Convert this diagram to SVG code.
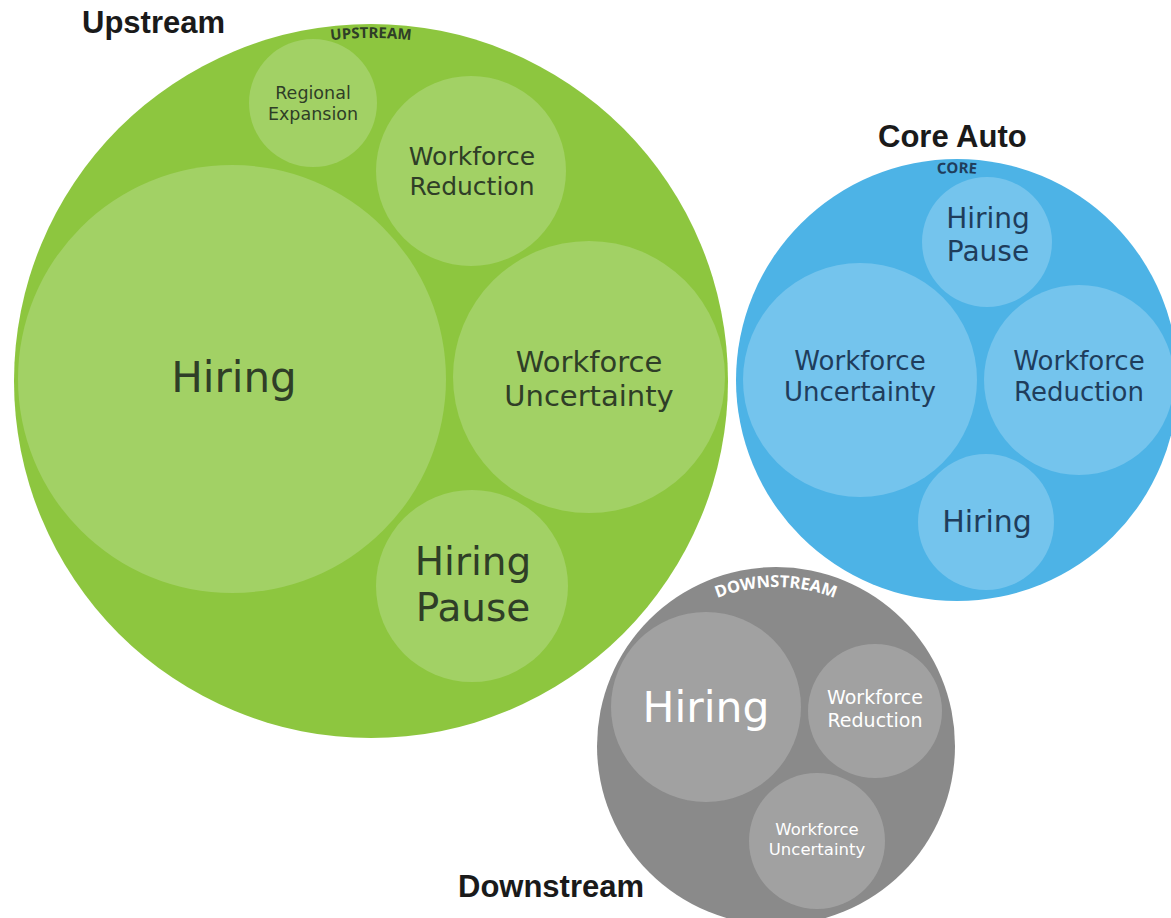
<svg xmlns="http://www.w3.org/2000/svg" width="1171" height="918" viewBox="0 0 1171 918">
<defs>
<style>
.title{font-family:"Liberation Sans",Arial,sans-serif;font-weight:bold;font-size:31px;fill:#1a1a1a}
.lbl{font-family:"DejaVu Sans","Noto Sans",sans-serif;text-anchor:middle}
.cap{font-family:"Noto Sans","Open Sans",sans-serif;font-weight:bold;text-anchor:middle}
.gO{fill:#8dc63f}.gI{fill:#a2d165}.gT{fill:#2f3e27}
.bO{fill:#4db3e6}.bI{fill:#74c4ed}.bT{fill:#1f3d5c}
.kO{fill:#8a8a8a}.kI{fill:#a1a1a1}.kT{fill:#ffffff}
</style>
<path id="arcUp" d="M 221,72.5 A 343 343 0 0 1 521,72.5"/>
<path id="arcCore" d="M 857,198.8 A 207 207 0 0 1 1057,198.8"/>
<path id="arcDown" d="M 656,641.7 A 159 159 0 0 1 896,641.7"/>
</defs>
<rect width="1171" height="918" fill="#ffffff"/>
<g id="connectors"/>

<g id="upstream">
<circle class="gO" cx="371" cy="381" r="357"/>
<g id="up-regional-expansion">
<circle class="gI" cx="313" cy="103" r="64"/>
<text class="lbl gT" font-size="17.5" x="313" y="99">Regional</text>
<text class="lbl gT" font-size="17.5" x="313" y="120">Expansion</text>
</g>
<g id="up-workforce-reduction">
<circle class="gI" cx="471" cy="171" r="95"/>
<text class="lbl gT" font-size="25" x="472" y="165">Workforce</text>
<text class="lbl gT" font-size="25" x="472" y="195">Reduction</text>
</g>
<g id="up-hiring">
<circle class="gI" cx="232" cy="379" r="214"/>
<text class="lbl gT" font-size="42" x="234" y="392">Hiring</text>
</g>
<g id="up-workforce-uncertainty">
<circle class="gI" cx="589" cy="377" r="136"/>
<text class="lbl gT" font-size="29" x="589" y="372">Workforce</text>
<text class="lbl gT" font-size="29" x="589" y="406">Uncertainty</text>
</g>
<g id="up-hiring-pause">
<circle class="gI" cx="472" cy="586" r="96"/>
<text class="lbl gT" font-size="39" x="473" y="575">Hiring</text>
<text class="lbl gT" font-size="39" x="473" y="621">Pause</text>
</g>
<text class="cap gT" font-size="15"><textPath href="#arcUp" startOffset="50%">UPSTREAM</textPath></text>
</g>

<g id="core">
<circle class="bO" cx="957" cy="380" r="221"/>
<g id="core-hiring-pause">
<circle class="bI" cx="987" cy="242" r="65"/>
<text class="lbl bT" font-size="28" x="988" y="228">Hiring</text>
<text class="lbl bT" font-size="28" x="988" y="261">Pause</text>
</g>
<g id="core-workforce-uncertainty">
<circle class="bI" cx="860" cy="380" r="117"/>
<text class="lbl bT" font-size="26" x="860" y="370">Workforce</text>
<text class="lbl bT" font-size="26" x="860" y="401">Uncertainty</text>
</g>
<g id="core-workforce-reduction">
<circle class="bI" cx="1079" cy="380" r="95"/>
<text class="lbl bT" font-size="26" x="1079" y="370">Workforce</text>
<text class="lbl bT" font-size="26" x="1079" y="401">Reduction</text>
</g>
<g id="core-hiring">
<circle class="bI" cx="986" cy="522" r="68"/>
<text class="lbl bT" font-size="30" x="987" y="532">Hiring</text>
</g>
<text class="cap bT" font-size="15"><textPath href="#arcCore" startOffset="50%">CORE</textPath></text>
</g>

<g id="downstream">
<circle class="kO" cx="776" cy="746" r="179"/>
<g id="down-hiring">
<circle class="kI" cx="706" cy="707" r="95"/>
<text class="lbl kT" font-size="42.5" x="706" y="722">Hiring</text>
</g>
<g id="down-workforce-reduction">
<circle class="kI" cx="875" cy="711" r="67"/>
<text class="lbl kT" font-size="19" x="875" y="704">Workforce</text>
<text class="lbl kT" font-size="19" x="875" y="727">Reduction</text>
</g>
<g id="down-workforce-uncertainty">
<circle class="kI" cx="817" cy="841" r="68"/>
<text class="lbl kT" font-size="16.5" x="817" y="835">Workforce</text>
<text class="lbl kT" font-size="16.5" x="817" y="855">Uncertainty</text>
</g>
<text class="cap kT" font-size="16.5"><textPath href="#arcDown" startOffset="50%">DOWNSTREAM</textPath></text>
</g>

<g id="titles">
<text class="title" x="82" y="33">Upstream</text>
<text class="title" x="878" y="147">Core Auto</text>
<text class="title" x="458" y="897">Downstream</text>
</g>
</svg>
